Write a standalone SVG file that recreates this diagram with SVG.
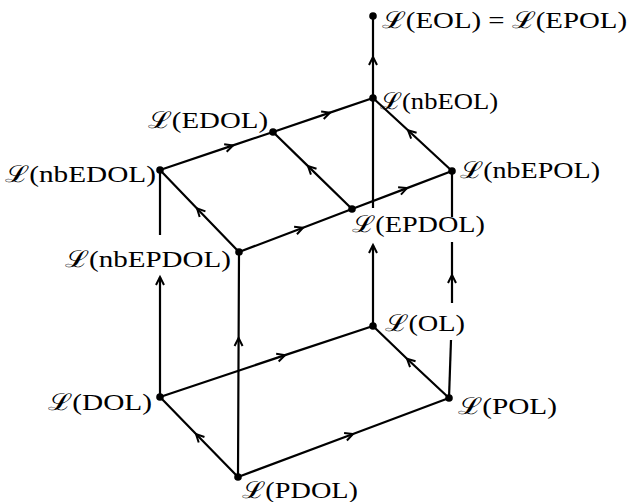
<svg xmlns="http://www.w3.org/2000/svg" width="634" height="502" viewBox="0 0 634 502">
<style>
.e{stroke:#000;stroke-width:2.2;fill:none}
.m{marker-mid:url(#ah)}
.n{marker-end:url(#ah)}
.d{fill:#000}
.t{font-family:"Liberation Serif","DejaVu Serif",serif;font-size:23px;fill:#000}
</style>
<defs>
<marker id="ah" markerUnits="userSpaceOnUse" markerWidth="20" markerHeight="20" viewBox="-10 -10 20 20" refX="0" refY="0" orient="auto">
<path d="M-8,-4 L0,0 L-8,4" fill="none" stroke="#000" stroke-width="2"/>
</marker>
</defs>
<rect width="634" height="502" fill="#fff"/>
<g id="connectors">
<path class="e m" d="M373,98 L373,57 L373,16"/>
<path class="e m" d="M160,170 L233,145.4 L273,132"/>
<path class="e m" d="M273,132 L330,112.6 L373,98"/>
<path class="e m" d="M352,209 L308,166.1 L273,132"/>
<path class="e m" d="M452,171 L408,130.3 L373,98"/>
<path class="e m" d="M239,252 L197,208.4 L160,170"/>
<path class="e m" d="M239,252 L303,227.7 L352,209"/>
<path class="e m" d="M352,209 L407,188.1 L452,171"/>
<path class="e n" d="M373,326 L373,245"/>
<path class="e" d="M373,208 L373,98"/>
<path class="e" d="M452,171 L452,217"/>
<path class="e m" d="M452,303 L452,275 L452,242"/>
<path class="e" d="M449,398 L451,340"/>
<path class="e" d="M160,170 L160,235"/>
<path class="e n" d="M160,397 L160,277"/>
<path class="e m" d="M238,477 L238.6,338 L239,252"/>
<path class="e m" d="M160,397 L285,355.1 L373,326"/>
<path class="e m" d="M238,477 L353,434 L449,398"/>
<path class="e m" d="M238,477 L196,434 L160,397"/>
<path class="e m" d="M449,398 L407,358.7 L373,326"/>
</g>
<g id="EOL"><circle class="d" cx="373" cy="16" r="3.8"/><text class="t" x="382" y="28" textLength="245" lengthAdjust="spacingAndGlyphs">ℒ(EOL) = ℒ(EPOL)</text></g>
<g id="nbEOL"><circle class="d" cx="373" cy="98" r="3.8"/><text class="t" x="380" y="109" textLength="118" lengthAdjust="spacingAndGlyphs">ℒ(nbEOL)</text></g>
<g id="EDOL"><circle class="d" cx="273" cy="132" r="3.8"/><text class="t" x="148" y="128" textLength="120" lengthAdjust="spacingAndGlyphs">ℒ(EDOL)</text></g>
<g id="nbEDOL"><circle class="d" cx="160" cy="170" r="3.8"/><text class="t" x="5" y="182" textLength="151" lengthAdjust="spacingAndGlyphs">ℒ(nbEDOL)</text></g>
<g id="nbEPOL"><circle class="d" cx="452" cy="171" r="3.8"/><text class="t" x="460" y="178" textLength="140" lengthAdjust="spacingAndGlyphs">ℒ(nbEPOL)</text></g>
<g id="EPDOL"><circle class="d" cx="352" cy="209" r="3.8"/><text class="t" x="352" y="232" textLength="133" lengthAdjust="spacingAndGlyphs">ℒ(EPDOL)</text></g>
<g id="nbEPDOL"><circle class="d" cx="239" cy="252" r="3.8"/><text class="t" x="65" y="267" textLength="166" lengthAdjust="spacingAndGlyphs">ℒ(nbEPDOL)</text></g>
<g id="OL"><circle class="d" cx="373" cy="326" r="3.8"/><text class="t" x="385" y="331" textLength="80" lengthAdjust="spacingAndGlyphs">ℒ(OL)</text></g>
<g id="POL"><circle class="d" cx="449" cy="398" r="3.8"/><text class="t" x="458" y="414" textLength="99" lengthAdjust="spacingAndGlyphs">ℒ(POL)</text></g>
<g id="DOL"><circle class="d" cx="160" cy="397" r="3.8"/><text class="t" x="48" y="410" textLength="104" lengthAdjust="spacingAndGlyphs">ℒ(DOL)</text></g>
<g id="PDOL"><circle class="d" cx="238" cy="477" r="3.8"/><text class="t" x="242" y="498" textLength="116" lengthAdjust="spacingAndGlyphs">ℒ(PDOL)</text></g>
</svg>
